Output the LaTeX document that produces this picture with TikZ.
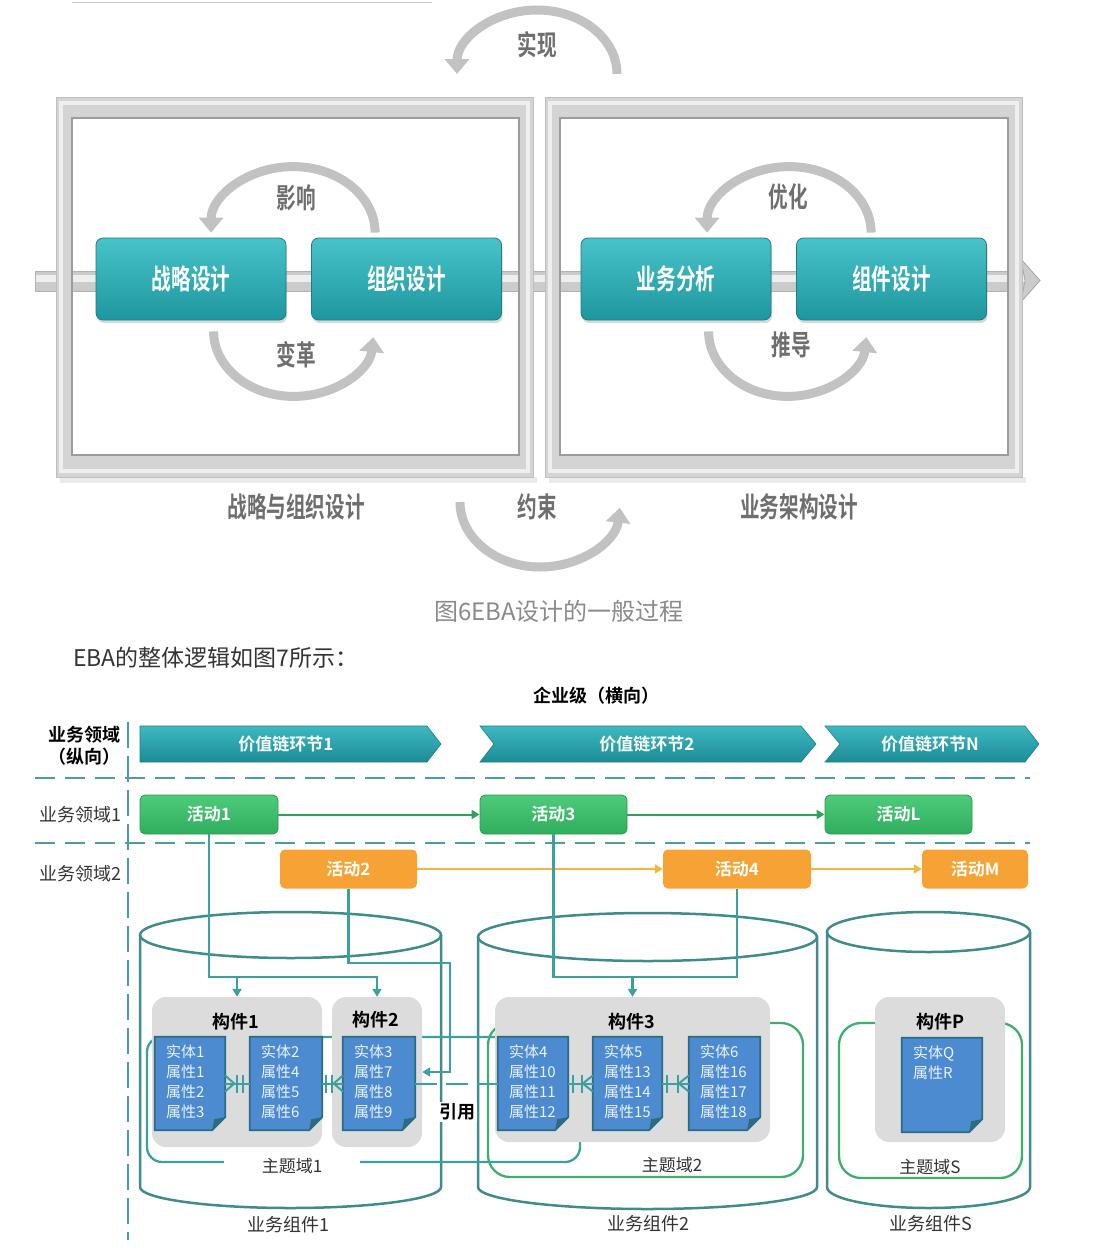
\documentclass[tikz,border=0pt]{standalone}
\usepackage{fontspec}
\usepackage{graphicx}
\setmainfont{Noto Sans CJK SC}[BoldFont={Noto Sans CJK SC Bold}]
\usetikzlibrary{arrows.meta,shadows,calc}

\definecolor{tealT}{HTML}{48C3C9}
\definecolor{tealB}{HTML}{1E969E}
\definecolor{tealD}{HTML}{1A7E86}
\definecolor{chevT}{HTML}{3CB9C1}
\definecolor{chevB}{HTML}{1D8C95}
\definecolor{greenT}{HTML}{4ECB7A}
\definecolor{greenB}{HTML}{2FAE5E}
\definecolor{greenD}{HTML}{2A9A52}
\definecolor{orangeC}{HTML}{F7A234}
\definecolor{flowGC}{HTML}{2FA35A}
\definecolor{flowOC}{HTML}{F2B83A}
\definecolor{connC}{HTML}{3C9FA2}
\definecolor{cylC}{HTML}{3F8C8A}
\definecolor{domG}{HTML}{3DAE6E}
\definecolor{dashC}{HTML}{4A9E9E}
\definecolor{kboxC}{HTML}{DCDCDC}
\definecolor{entB}{HTML}{4D8BD0}
\definecolor{entD}{HTML}{2C6C82}
\definecolor{entText}{HTML}{EAF2FB}
\definecolor{topText}{HTML}{6E6E6E}
\definecolor{arcC}{HTML}{C2C2C2}
\definecolor{frameC}{HTML}{D4D4D4}
\definecolor{frameH}{HTML}{EFEFEF}
\definecolor{frameD}{HTML}{9C9C9C}
\definecolor{pipeC}{HTML}{CBCBCB}
\definecolor{pipeH}{HTML}{EEEEEE}
\definecolor{lblC}{HTML}{333333}
\definecolor{capC}{HTML}{8A8A8A}

\newcommand\cnd[1]{\scalebox{0.7}[1]{#1}}
\newcommand\fs[1]{\fontsize{#1}{#1}\selectfont}

\newcommand\entity[6]{%
  \node[entbox, minimum width={#4-#2}, minimum height={#5-#3}] (#1) at ({(#2+#4)/2},{(#3+#5)/2}) {};
  \filldraw[entshape] (#1.north west) -- (#1.north east) -- ($(#1.south east)+(0,-13)$) -- ($(#1.south east)+(-13,0)$) -- (#1.south west) -- cycle;
  \fill[entD] ($(#1.south east)+(0,-13)$) -- ($(#1.south east)+(-13,0)$) -- ($(#1.south east)+(-11,-11)$) -- cycle;
  \node[enttext, anchor=north west] (#1t) at ($(#1.north west)+(11,8)$) {#6};
}

\begin{document}
\begin{tikzpicture}[x=1pt,y=-1pt,
  tbox/.style={rounded corners=7, draw=tealD, line width=0.8, top color=tealT, bottom color=tealB,
     minimum width=190, minimum height=82, inner sep=0, text=white, font=\fs{28}\bfseries,
     drop shadow={opacity=0.3, shadow xshift=1pt, shadow yshift=-3pt}},
  toplbl/.style={inner sep=0, text=topText, font=\fs{28}\bfseries},
  arcarrow/.style={draw=arcC, line width=9, -{Triangle[width=24pt,length=15pt]}},
  act/.style={rounded corners=5, minimum height=39, inner sep=0, text=white, font=\fs{17}\bfseries},
  actG/.style={act, top color=greenT, bottom color=greenB, draw=greenD, line width=0.8},
  actO/.style={act, fill=orangeC},
  conn/.style={draw=connC, line width=2.3},
  connA/.style={conn, -{Triangle[width=9pt,length=8pt]}},
  flowG/.style={draw=flowGC, line width=2, -{Triangle[width=9pt,length=8pt]}},
  flowO/.style={draw=flowOC, line width=2, -{Triangle[width=9pt,length=8pt]}},
  dashl/.style={draw=dashC, line width=2.8, dash pattern=on 20pt off 10pt},
  cyl/.style={draw=cylC, line width=2.5},
  dom1/.style={draw=connC, line width=2.3, rounded corners=15},
  dom2/.style={draw=domG, line width=2.3, rounded corners=22},
  kbox/.style={rounded corners=14, fill=kboxC, inner sep=0},
  ktitle/.style={inner sep=0, font=\fs{18}\bfseries, text=black},
  entbox/.style={inner sep=0, draw=none},
  entshape/.style={fill=entB, draw=entD, line width=1.8},
  enttext/.style={inner sep=0, align=left, text=entText, font=\fontsize{15}{20}\selectfont},
  rel/.style={draw=connC, line width=2},
  lbl/.style={inner sep=0, font=\fs{18}, text=lblC},
  chevtxt/.style={inner sep=0, font=\fs{17}\bfseries, text=white}
]
\useasboundingbox (0,0) rectangle (1117,1258);

% ---------- top figure ----------
\draw[line width=1, draw=black!22] (72,2) -- (432,2);

% pipe
\fill[pipeC] (35,271) rectangle (1024,291);
\fill[pipeH] (35,275) rectangle (1024,282);
\draw[black!30, line width=0.6] (35,271) -- (1024,271) (35,291) -- (1024,291) (35,271) -- (35,291);
\filldraw[fill=pipeC, draw=black!35, line width=0.8] (1021,259) -- (1040,280.5) -- (1021,302) -- (1025,280.5) -- cycle;

% frames
\fill[black!8] (60,477) rectangle (537,483);
\fill[black!8] (549,477) rectangle (1026,483);
\fill[frameC, even odd rule] (56,97) rectangle (533,477) (72,118) rectangle (519,455);
\draw[frameH, line width=4] (61,103) rectangle (528,471);
\draw[frameD, line width=1.5] (72,118) rectangle (519,455);
\draw[black!25, line width=1] (56,97) rectangle (533,477);
\fill[frameC, even odd rule] (545,97) rectangle (1022,477) (560,118) rectangle (1008,455);
\draw[frameH, line width=4] (550,103) rectangle (1017,471);
\draw[frameD, line width=1.5] (560,118) rectangle (1008,455);
\draw[black!25, line width=1] (545,97) rectangle (1022,477);

% boxes
\node[tbox] (b1) at (191,279) {\cnd{战略设计}};
\node[tbox] (b2) at (406.5,279) {\cnd{组织设计}};
\node[tbox] (b3) at (676,279) {\cnd{业务分析}};
\node[tbox] (b4) at (891.5,279) {\cnd{组件设计}};

% arcs
\draw[arcarrow] ($(b2.north west)+(64,-5)$) arc[start angle=0, end angle=-180, x radius=82, y radius=66];
\draw[arcarrow] ($(b1.south west)+(118,11)$) arc[start angle=180, end angle=5, x radius=80, y radius=65];
\draw[arcarrow] ($(b4.north west)+(75,-5)$) arc[start angle=0, end angle=-180, x radius=82, y radius=66];
\draw[arcarrow] ($(b3.south west)+(128,11)$) arc[start angle=180, end angle=5, x radius=79, y radius=65];
\draw[arcarrow] (617,74) arc[start angle=0, end angle=-180, x radius=80, y radius=64];
\draw[arcarrow] (460,502) arc[start angle=180, end angle=5, x radius=80, y radius=65];

\node[toplbl] (l1) at (296,198) {\cnd{影响}};
\node[toplbl] (l2) at (296,355) {\cnd{变革}};
\node[toplbl] (l3) at (788,197) {\cnd{优化}};
\node[toplbl] (l4) at (791,345) {\cnd{推导}};
\node[toplbl] (l5) at (537,45) {\cnd{实现}};
\node[toplbl] (l6) at (537,507) {\cnd{约束}};
\node[toplbl] (l7) at (296,507) {\cnd{战略与组织设计}};
\node[toplbl] (l8) at (799,507) {\cnd{业务架构设计}};

% caption & text
\node[inner sep=0, font=\fs{24}, text=capC] (cap) at (559,611) {图6EBA设计的一般过程};
\node[inner sep=0, font=\fs{23}, text=lblC, anchor=west] (intro) at (73,658) {EBA的整体逻辑如图7所示：};

% ---------- bottom figure ----------
\node[inner sep=0, font=\fs{18}\bfseries] (ent) at (596,696) {企业级（横向）};
\node[inner sep=0, font=\fs{18}\bfseries, align=center] (vert) at (84,746) {业务领域\\[4pt]（纵向）};

\draw[dashl, dash pattern=on 26pt off 8pt, line width=2.2] (128,722) -- (128,1240);
\draw[dashl] (35,778) -- (1030,778);
\draw[dashl] (35,843) -- (1030,843);

% chevrons
\shade[top color=chevT, bottom color=chevB, draw=tealD, line width=0.6] (140,726) -- (427,726) -- (441,744) -- (427,762) -- (140,762) -- cycle;
\shade[top color=chevT, bottom color=chevB, draw=tealD, line width=0.6] (480,726) -- (801,726) -- (816,744) -- (801,762) -- (480,762) -- (494,744) -- cycle;
\shade[top color=chevT, bottom color=chevB, draw=tealD, line width=0.6] (825,726) -- (1025,726) -- (1039,744) -- (1025,762) -- (825,762) -- (840,744) -- cycle;
\node[chevtxt] (v1) at (286,744) {价值链环节1};
\node[chevtxt] (v2) at (647,744) {价值链环节2};
\node[chevtxt] (vN) at (930,744) {价值链环节N};

\node[lbl] (r1) at (80,815) {业务领域1};
\node[lbl] (r2l) at (80,874) {业务领域2};

% cylinders
\draw[cyl] (140,935) -- (140,1187) arc[start angle=180, end angle=0, x radius=150.5, y radius=21] -- (441,935);
\draw[cyl] (290.5,935) ellipse [x radius=150.5, y radius=23];
\draw[cyl] (478,937) -- (478,1187) arc[start angle=180, end angle=0, x radius=169.5, y radius=22] -- (817,937);
\draw[cyl] (647.5,937) ellipse [x radius=169.5, y radius=24];
\draw[cyl] (827,932) -- (827,1187) arc[start angle=180, end angle=0, x radius=101.5, y radius=21] -- (1030,932);
\draw[cyl] (928.5,932) ellipse [x radius=101.5, y radius=20];
\node[lbl] (c1) at (288,1225) {业务组件1};
\node[lbl] (c2) at (648,1224) {业务组件2};
\node[lbl] (c3) at (931,1224) {业务组件S};

% subject domains
\draw[dom1] (147,1037) rectangle (580,1162);
\draw[dom2] (488,1023) rectangle (803,1177);
\draw[dom2] (839,1023) rectangle (1022,1178);

% component boxes
\node[kbox, minimum width=170, minimum height=150] (k1) at (237,1072) {};
\node[kbox, minimum width=90, minimum height=150] (k2) at (377,1072) {};
\node[kbox, minimum width=275, minimum height=145] (k3) at (632.5,1069.5) {};
\node[kbox, minimum width=130, minimum height=145] (kP) at (940,1069.5) {};
\node[ktitle] (k1t) at (236,1022) {构件1};
\node[ktitle] (k2t) at (376,1020) {构件2};
\node[ktitle] (k3t) at (632,1022) {构件3};
\node[ktitle] (kPt) at (940,1022) {构件P};

\node[inner sep=0, font=\fs{17}, text=lblC, fill=white, minimum width=136, minimum height=12] (d1) at (292,1166) {主题域1};
\node[inner sep=0, font=\fs{17}, text=lblC] (d2) at (672,1165) {主题域2};
\node[inner sep=0, font=\fs{17}, text=lblC] (dS) at (930,1167) {主题域S};

% entities
\entity{e1}{155}{1037}{225}{1130}{实体1\\属性1\\属性2\\属性3}
\entity{e2}{250}{1037}{322}{1130}{实体2\\属性4\\属性5\\属性6}
\entity{e3}{343}{1037}{415}{1130}{实体3\\属性7\\属性8\\属性9}
\entity{e4}{498}{1037}{568}{1130}{实体4\\属性10\\属性11\\属性12}
\entity{e5}{593}{1037}{662}{1130}{实体5\\属性13\\属性14\\属性15}
\entity{e6}{689}{1037}{760}{1130}{实体6\\属性16\\属性17\\属性18}
\entity{eQ}{902}{1038}{982}{1132}{实体Q\\属性R}

% relations
\draw[rel] (e1.east) -- (e2.west);
\draw[rel] ($(e1.east)+(9,0)$) -- ($(e1.east)+(0,-8)$) ($(e1.east)+(9,0)$) -- ($(e1.east)+(0,8)$);
\draw[rel] ($(e1.east)+(12,-9)$) -- ($(e1.east)+(12,9)$);
\draw[rel] ($(e2.west)+(-7,-9)$) -- ($(e2.west)+(-7,9)$);

\draw[rel] (e2.east) -- (e3.west);
\draw[rel] ($(e2.east)+(4,-9)$) -- ($(e2.east)+(4,9)$);
\draw[rel] ($(e2.east)+(10,-9)$) -- ($(e2.east)+(10,9)$);
\draw[rel] ($(e3.west)+(-9,0)$) -- ($(e3.west)+(0,-8)$) ($(e3.west)+(-9,0)$) -- ($(e3.west)+(0,8)$);

\draw[rel] (e4.east) -- (e5.west);
\draw[rel] ($(e4.east)+(5,-9)$) -- ($(e4.east)+(5,9)$);
\draw[rel] ($(e5.west)+(-11,-9)$) -- ($(e5.west)+(-11,9)$);
\draw[rel] ($(e5.west)+(-10,0)$) -- ($(e5.west)+(0,-8)$) ($(e5.west)+(-10,0)$) -- ($(e5.west)+(0,8)$);

\draw[rel] (e5.east) -- (e6.west);
\draw[rel] ($(e5.east)+(5,-9)$) -- ($(e5.east)+(5,9)$);
\draw[rel] ($(e6.west)+(-11,-9)$) -- ($(e6.west)+(-11,9)$);
\draw[rel] ($(e6.west)+(-10,0)$) -- ($(e6.west)+(0,-8)$) ($(e6.west)+(-10,0)$) -- ($(e6.west)+(0,8)$);

\draw[rel, dash pattern=on 22pt off 9pt] (e3.east) -- (e4.west);

% activities
\node[actG, minimum width=138] (a1) at (209,814.5) {活动1};
\node[actG, minimum width=147] (a3) at (553.5,814.5) {活动3};
\node[actG, minimum width=147] (aL) at (898.5,814.5) {活动L};
\node[actO, minimum width=137] (a2) at (348.5,869) {活动2};
\node[actO, minimum width=148] (a4) at (737,869) {活动4};
\node[actO, minimum width=106] (aM) at (975,869) {活动M};

\draw[flowG] (a1.east) -- (a3.west);
\draw[flowG] (a3.east) -- (aL.west);
\draw[flowO] (a2.east) -- (a4.west);
\draw[flowO] (a4.east) -- (aM.west);

% routes to components
\coordinate (j1) at (209,977);
\coordinate (j2) at (450,963);
\coordinate (j3) at (553.5,977);
\draw[connA] (a1.south) -- (j1) -| (k2.north);
\draw[connA] (j1 -| k1.north) -- (k1.north);
\draw[connA] (a2.south) |- (j2) |- (k2.east);
\draw[conn] (a3.south) -- (j3) -| (a4.south);
\draw[connA] (j3 -| k3.north) -- (k3.north);

\node[inner sep=2, fill=white, font=\fs{18}\bfseries] (ref) at (457,1112) {引用};
\end{tikzpicture}
\end{document}
